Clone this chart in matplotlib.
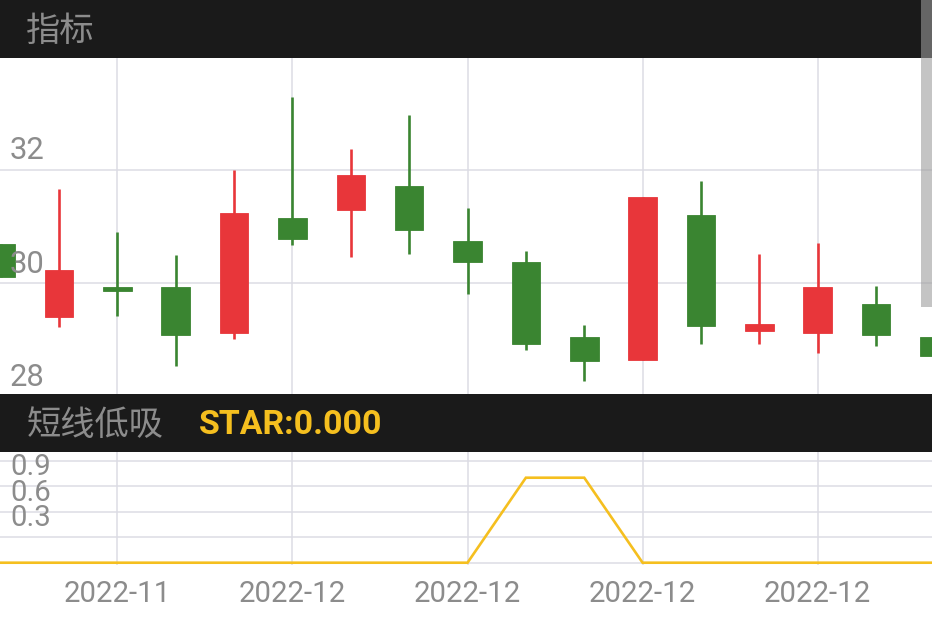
import matplotlib
matplotlib.use("Agg")
import matplotlib.pyplot as plt
from matplotlib.patches import Rectangle
from matplotlib.transforms import blended_transform_factory, ScaledTranslation

# ---- daily OHLC (one bar per session) ----
opens  = [30.70, 29.40, 29.93, 29.93, 29.13, 31.15, 31.30, 31.72, 30.74,
          30.38, 29.06, 28.64, 31.20, 29.15, 29.13, 29.64, 29.06]
closes = [30.12, 30.24, 29.87, 29.09, 31.24, 30.79, 31.92, 30.94, 30.37,
          28.93, 28.63, 31.52, 29.25, 29.29, 29.93, 29.09, 28.71]
highs  = [30.70, 31.66, 30.90, 30.50, 32.00, 33.29, 32.37, 32.97, 31.33,
          30.57, 29.27, 31.52, 31.81, 30.51, 30.71, 29.96, 29.20]
lows   = [30.12, 29.23, 29.42, 28.54, 29.01, 30.67, 30.47, 30.52, 29.82,
          28.82, 28.28, 28.64, 28.93, 28.93, 28.77, 28.90, 28.60]

# short-term dip-buy signal (STAR)
star = [0, 0, 0, 0, 0, 0, 0, 0, 0, 1, 1, 0, 0, 0, 0, 0, 0]

# date axis labels
date_tick_pos = [2, 5, 8, 11, 14]
date_labels = ["2022-11", "2022-12", "2022-12", "2022-12", "2022-12"]

price_ticks = [28, 30, 32]
price_grid = [28, 30, 32, 34]
star_ticks = [0.3, 0.6, 0.9]
star_grid = [0.0, 0.3, 0.6, 0.9, 1.2]

UP = "#e8363a"
DOWN = "#3a8531"
YELLOW = "#f5bf1f"
GRID = "#dcdce4"
DARK = "#1a1a1a"
LABEL = "#8c8c8c"

W, H = 932, 620
fig = plt.figure(figsize=(W / 100, H / 100), dpi=100)
fig.patch.set_facecolor("white")


def fy(px):
    """figure fraction from pixel row measured from top"""
    return 1 - px / H


# header bars
fig.patches.append(Rectangle((0, fy(57.5)), 1, 57.5 / H, transform=fig.transFigure,
                             facecolor=DARK, edgecolor="none", zorder=0))
fig.patches.append(Rectangle((0, fy(451.7)), 1, (451.7 - 394) / H, transform=fig.transFigure,
                             facecolor=DARK, edgecolor="none", zorder=0))

cjk = ["Noto Sans CJK SC", "DejaVu Sans"]
fig.text(26 / W, fy(40.5), "指标", family=cjk, fontsize=24.7, color=LABEL, va="baseline")
fig.text(27 / W, fy(435), "短线低吸", family=cjk, fontsize=24.7, color=LABEL, va="baseline")
fig.text(199 / W, fy(434.3), "STAR:%.3f" % star[-1], family="Roboto", weight="bold",
         fontsize=24.4, color=YELLOW, va="baseline")

xmin, xmax = -0.011, 15.959

# ---- candlestick panel ----
ax = fig.add_axes([0, fy(394), 1, (394 - 57.5) / H])
ax.set_xlim(xmin, xmax)
ax.set_ylim(28.047, 33.985)
for s in ax.spines.values():
    s.set_visible(False)
ax.set_xticks([])
ax.set_yticks([])
for g in price_grid:
    ax.axhline(g, color=GRID, lw=1.1, zorder=0)
for p in date_tick_pos:
    ax.axvline(p, color=GRID, lw=1.1, zorder=0)

bw = 0.49
for i, (o, c, hi, lo) in enumerate(zip(opens, closes, highs, lows)):
    col = UP if c >= o else DOWN
    ax.vlines(i, lo, hi, color=col, lw=1.9, zorder=2)
    bottom = min(o, c)
    height = max(abs(c - o), 0.03)
    ax.add_patch(Rectangle((i - bw / 2, bottom), bw, height, facecolor=col,
                           edgecolor=col, lw=0.6, zorder=3))

lbl_off = ScaledTranslation(0, 10.8 / 100, fig.dpi_scale_trans)
trans_y = blended_transform_factory(fig.transFigure, ax.transData) + lbl_off
for t in price_ticks:
    ax.text(10 / W, t, "%d" % t, transform=trans_y, family="Roboto", fontsize=22.3,
            color=LABEL, va="baseline", ha="left", zorder=4, clip_on=False)

# ---- STAR indicator panel ----
ax2 = fig.add_axes([0, fy(565), 1, (565 - 451.7) / H])
ax2.set_xlim(xmin, xmax)
ax2.set_ylim(-0.027, 1.306)
for s in ax2.spines.values():
    s.set_visible(False)
ax2.set_xticks([])
ax2.set_yticks([])
for g in star_grid:
    ax2.axhline(g, color=GRID, lw=1.1, zorder=0)
for p in date_tick_pos:
    ax2.axvline(p, color=GRID, lw=1.1, zorder=0)
ax2.plot(range(len(star)), star, color=YELLOW, lw=1.9, zorder=3, solid_joinstyle="miter")

trans_y2 = blended_transform_factory(fig.transFigure, ax2.transData) + lbl_off
for t in star_ticks:
    ax2.text(10 / W, t, "%.1f" % t, transform=trans_y2, family="Roboto", fontsize=21.2,
             color=LABEL, va="baseline", ha="left", zorder=4, clip_on=False)

trans_x = blended_transform_factory(ax2.transData, fig.transFigure)
for p, lab in zip(date_tick_pos, date_labels):
    fig.text(p, fy(601.7), lab, transform=trans_x, family="Roboto", fontsize=21.2,
             color=LABEL, ha="center", va="baseline")

# scroll indicator on the right edge
fig.patches.append(Rectangle((921 / W, fy(307)), 11 / W, 307 / H, transform=fig.transFigure,
                             facecolor=(155 / 255, 155 / 255, 155 / 255, 0.59),
                             edgecolor="none", zorder=10))

fig.savefig("out.png", dpi=100, facecolor="white")
